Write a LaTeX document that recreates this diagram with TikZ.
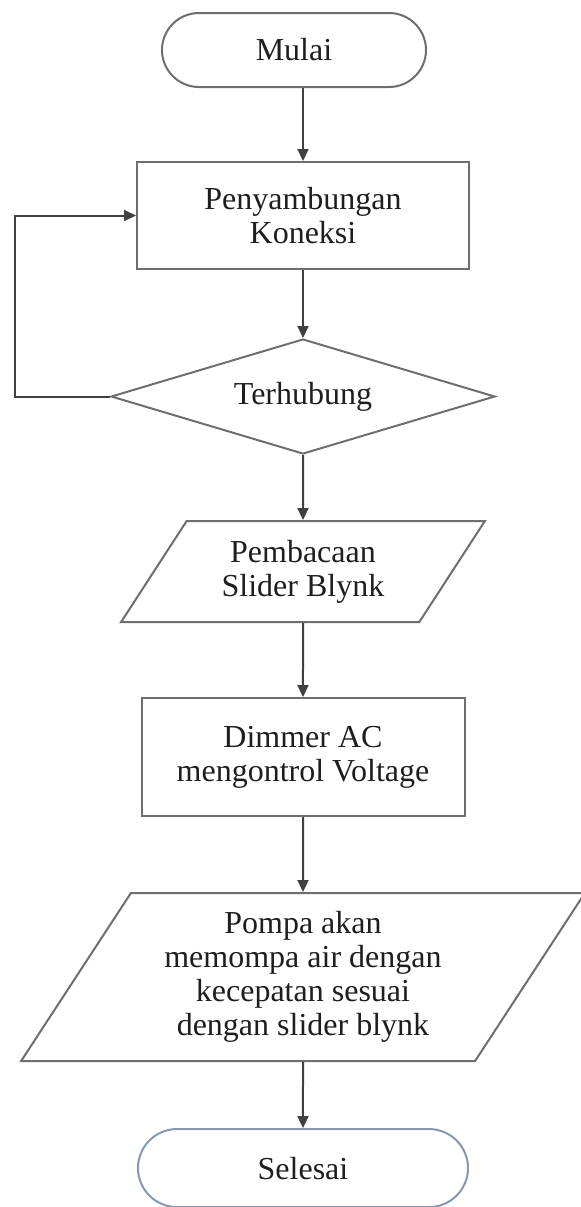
\documentclass[tikz,border=0pt]{standalone}
\usepackage{fontspec}
\setmainfont{Liberation Serif}
\usepackage{xcolor}
\usetikzlibrary{arrows.meta,positioning,shapes.geometric}
\definecolor{Line}{HTML}{6E6E6E}
\definecolor{EndLine}{HTML}{8797AE}
\definecolor{Ink}{HTML}{1E1E1E}

\begin{document}
\begin{tikzpicture}[
  x=0.5pt,y=-0.5pt,
  node distance=34pt,
  base/.style={draw=Line,line width=1pt,text=Ink,align=center,font=\fontsize{16}{17}\selectfont,inner sep=0pt},
  term/.style={base,rounded corners=18.5pt,minimum width=132pt,minimum height=37pt},
  proc/.style={base,rectangle,minimum width=166pt,minimum height=53.5pt},
  decide/.style={base,diamond,aspect=3.3,minimum width=192pt,minimum height=57.5pt},
  io/.style={base,trapezium,trapezium left angle=54,trapezium right angle=126,trapezium stretches=true,minimum width=182pt,minimum height=50.5pt},
  arrow/.style={-{Triangle[length=6pt,width=5.5pt]},line width=1pt,draw=black!75}
]
\useasboundingbox (0,0) rectangle (580,1207);
\node[proc] (konek) at (303,215.5) {Penyambungan\\Koneksi};
\node[term,above=36.5pt of konek,xshift=-4.5pt] (mulai) {Mulai};
\node[decide,below=34pt of konek] (hubung) {Terhubung};
\node[io,below=32.5pt of hubung] (baca) {Pembacaan\\Slider Blynk};
\node[proc,below=37pt of baca,minimum width=161.5pt,minimum height=59pt] (dimmer) {Dimmer AC\\mengontrol Voltage};
\node[io,below=37.5pt of dimmer,trapezium left angle=56,trapezium right angle=124,minimum width=282.5pt,minimum height=84pt] (pompa) {Pompa akan\\memompa air dengan\\kecepatan sesuai\\dengan slider blynk};
\node[term,below=33pt of pompa,draw=EndLine,rounded corners=19.5pt,minimum width=165pt,minimum height=39pt] (selesai) {Selesai};

\draw[arrow] (mulai.south -| konek.north) -- (konek.north);
\draw[arrow] (konek) -- (hubung);
\draw[arrow] (hubung) -- (baca);
\draw[arrow] (baca) -- (dimmer);
\draw[arrow] (dimmer) -- (pompa);
\draw[arrow] (pompa) -- (selesai);
% kembali jika belum terhubung
\draw[arrow] (hubung.west) -- ++(-95,0) |- (konek.west);
\end{tikzpicture}
\end{document}
